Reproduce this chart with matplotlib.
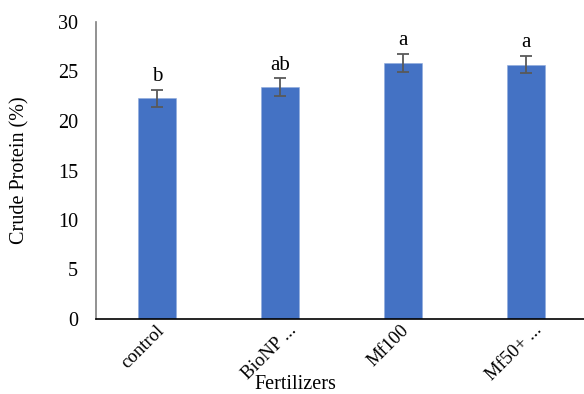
import matplotlib
matplotlib.use('Agg')
import matplotlib.pyplot as plt
from matplotlib.transforms import ScaledTranslation

categories = ['control', 'BioNP ...', 'Mf100', 'Mf50+ ...']
protein = [22.3, 23.4, 25.85, 25.7]
errors = [0.85, 0.9, 0.95, 0.9]
letters = ['b', 'ab', 'a', 'a']

plt.rcParams['font.family'] = ['Liberation Serif', 'DejaVu Serif']

fig = plt.figure(figsize=(5.84, 3.94), dpi=100)
ax = fig.add_axes([96 / 584, 75 / 394, 488 / 584, 297 / 394])

x = range(len(categories))
ax.bar(x, protein, width=0.31, color='#4472C4', edgecolor='#8FAADC', linewidth=0.4,
       yerr=errors, error_kw=dict(ecolor='#595959', elinewidth=1.3, capsize=4.3, capthick=1.3))

for i, (v, e, lab) in enumerate(zip(protein, errors, letters)):
    ax.annotate(lab, (i, v + e), xytext=(0, 6), textcoords='offset points',
                ha='center', va='baseline', fontsize=15)

ax.set_xlim(-0.5, 3.476)
ax.set_ylim(0, 30)
ax.set_yticks(range(0, 31, 5))
ax.set_xticks(list(x))
ax.set_xticklabels(categories, rotation=45, ha='right', rotation_mode='anchor', fontsize=13.5)
ax.tick_params(axis='both', length=0)
ax.tick_params(axis='y', pad=13, labelsize=14.5)
ax.tick_params(axis='x', pad=2)

# shift labels sideways like the original
shifts = [-2, 8, -3, 8]
for lbl, dx in zip(ax.get_xticklabels(), shifts):
    lbl.set_transform(lbl.get_transform() + ScaledTranslation(dx / 100, 0, fig.dpi_scale_trans))

for s in ['top', 'right']:
    ax.spines[s].set_visible(False)
ax.spines['left'].set_color('#7F7F7F')
ax.spines['left'].set_linewidth(1.2)
ax.spines['bottom'].set_color('#000000')
ax.spines['bottom'].set_linewidth(1.2)

ax.set_ylabel('Crude Protein (%)', fontsize=14.5)
ax.yaxis.set_label_coords(-0.137, 0.5)
ax.set_xlabel('Fertilizers', fontsize=14.5)
ax.xaxis.set_label_coords(0.408, -0.19)

fig.savefig('out.png', dpi=100)
